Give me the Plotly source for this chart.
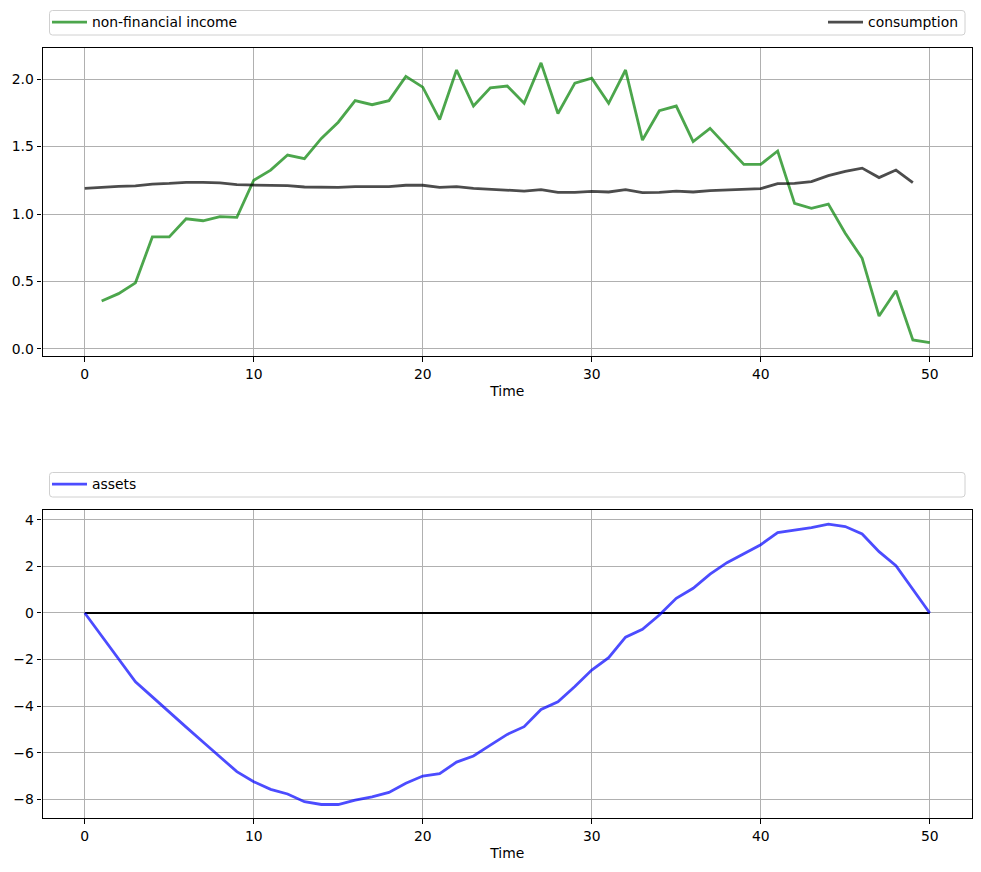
import plotly.graph_objects as go

W, H = 981, 872

time_income = list(range(1, 51))
income = [0.356, 0.41, 0.49, 0.83, 0.83, 0.965, 0.95, 0.98, 0.975, 1.25,
          1.325, 1.437, 1.41, 1.56, 1.68, 1.84, 1.81, 1.84, 2.02, 1.94,
          1.70, 2.067, 1.80, 1.935, 1.948, 1.82, 2.12, 1.745, 1.97, 2.007,
          1.82, 2.067, 1.548, 1.765, 1.80, 1.536, 1.635, 1.50, 1.368, 1.368,
          1.467, 1.079, 1.042, 1.074, 0.857, 0.672, 0.244, 0.432, 0.067, 0.047]

time_cons = list(range(0, 50))
consumption = [1.19, 1.20, 1.205, 1.208, 1.222, 1.227, 1.235, 1.235, 1.23, 1.217,
               1.215, 1.213, 1.21, 1.20, 1.198, 1.198, 1.203, 1.203, 1.203, 1.213,
               1.213, 1.198, 1.203, 1.19, 1.185, 1.18, 1.17, 1.18, 1.16, 1.16,
               1.168, 1.163, 1.18, 1.158, 1.16, 1.17, 1.163, 1.173, 1.178, 1.178,
               1.188, 1.225, 1.227, 1.24, 1.284, 1.316, 1.34, 1.27, 1.326, 1.232]

time_assets = list(range(0, 51))
assets = [0.0, -0.98, -1.97, -2.95, -3.6, -4.27, -4.9, -5.54, -6.17, -6.81,
          -7.24, -7.57, -7.77, -8.1, -8.22, -8.22, -8.03, -7.89, -7.7, -7.31,
          -7.0, -6.9, -6.4, -6.14, -5.67, -5.21, -4.88, -4.14, -3.81, -3.16,
          -2.45, -1.92, -1.04, -0.70, -0.09, 0.63, 1.06, 1.67, 2.16, 2.53,
          2.93, 3.45, 3.56, 3.66, 3.81, 3.71, 3.39, 2.63, 2.03, 1.03, 0.0]

zero_x = [0, 50]
zero_y = [0, 0]

FONT = "DejaVu Sans"
FS = 13.9


def px_x(p):
    return p / W


def px_y(p):
    return 1 - p / H


fig = go.Figure()

fig.add_trace(go.Scatter(x=time_income, y=income, mode="lines", name="non-financial income",
                         line=dict(color="rgba(0,128,0,0.7)", width=2.8),
                         xaxis="x", yaxis="y", legend="legend"))
fig.add_trace(go.Scatter(x=time_cons, y=consumption, mode="lines", name="consumption",
                         line=dict(color="rgba(0,0,0,0.7)", width=2.8),
                         xaxis="x", yaxis="y", legend="legend2"))
fig.add_trace(go.Scatter(x=zero_x, y=zero_y, mode="lines", name="zero", showlegend=False,
                         line=dict(color="black", width=2),
                         xaxis="x2", yaxis="y2"))
fig.add_trace(go.Scatter(x=time_assets, y=assets, mode="lines", name="assets",
                         line=dict(color="rgba(0,0,255,0.7)", width=2.8),
                         xaxis="x2", yaxis="y2", legend="legend3"))

axis_common = dict(
    showline=True, linecolor="black", linewidth=1.1, mirror=True,
    ticks="outside", ticklen=4.9, tickwidth=1.1, tickcolor="black",
    showgrid=True, gridcolor="#b0b0b0", gridwidth=1.1,
    zeroline=False, tickfont=dict(family=FONT, size=FS, color="black"),
)

xa = dict(axis_common, range=[-2.5, 52.5], tickmode="array", tickvals=[0, 10, 20, 30, 40, 50],
          title=dict(text="Time", font=dict(family=FONT, size=FS, color="black"), standoff=5.5))

leg_common = dict(bgcolor="rgba(0,0,0,0)", borderwidth=0, itemwidth=35,
                  font=dict(family=FONT, size=FS, color="black"))

fig.update_layout(
    width=W, height=H,
    margin=dict(l=0, r=0, t=0, b=0),
    paper_bgcolor="white", plot_bgcolor="white",
    font=dict(family=FONT, size=FS, color="black"),
    xaxis=dict(xa, domain=[px_x(42.5), px_x(972)], anchor="y"),
    yaxis=dict(axis_common, domain=[px_y(356), px_y(48)], anchor="x",
               range=[-0.052, 2.23], tickmode="array", tickvals=[0, 0.5, 1.0, 1.5, 2.0],
               tickformat=".1f"),
    xaxis2=dict(xa, domain=[px_x(42.5), px_x(972)], anchor="y2"),
    yaxis2=dict(axis_common, domain=[px_y(818), px_y(510)], anchor="x2",
                range=[-8.80, 4.42], tickmode="array", tickvals=[-8, -6, -4, -2, 0, 2, 4]),
    legend=dict(leg_common, x=px_x(47), y=px_y(22.5), xanchor="left", yanchor="middle"),
    legend2=dict(leg_common, x=px_x(963), y=px_y(22.5), xanchor="right", yanchor="middle"),
    legend3=dict(leg_common, x=px_x(47), y=px_y(484.5), xanchor="left", yanchor="middle"),
    showlegend=True,
)


def rounded_box(x0, y0, x1, y1, r=3):
    X0, X1 = px_x(x0), px_x(x1)
    Y0, Y1 = px_y(y0), px_y(y1)
    rx, ry = r / W, r / H
    path = (f"M {X0 + rx},{Y0} L {X1 - rx},{Y0} Q {X1},{Y0} {X1},{Y0 - ry} "
            f"L {X1},{Y1 + ry} Q {X1},{Y1} {X1 - rx},{Y1} "
            f"L {X0 + rx},{Y1} Q {X0},{Y1} {X0},{Y1 + ry} "
            f"L {X0},{Y0 - ry} Q {X0},{Y0} {X0 + rx},{Y0} Z")
    return dict(type="path", xref="paper", yref="paper", path=path,
                line=dict(color="#d0d0d0", width=1), fillcolor="rgba(255,255,255,0.8)",
                layer="below")


fig.update_layout(shapes=[rounded_box(49.5, 10.5, 965, 35), rounded_box(49.5, 472.5, 965, 497)])

fig.write_html("out.html")
